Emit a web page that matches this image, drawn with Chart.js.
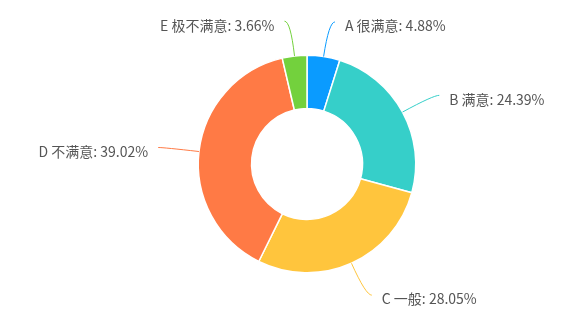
<!DOCTYPE html>
<html>
<head>
<meta charset="utf-8">
<script src="https://cdn.jsdelivr.net/npm/chart.js@4"></script>
<style>
  html, body { margin: 0; padding: 0; background: #fff; }
  #wrap { width: 582px; height: 319px; }
</style>
</head>
<body>
<div id="wrap"><canvas id="c" width="582" height="319"></canvas></div>
<script>
const categories = ['A 很满意', 'B 满意', 'C 一般', 'D 不满意', 'E 极不满意'];
const counts = [4, 20, 23, 32, 3];
const colors = ['#0a9bff', '#36cfc9', '#ffc53d', '#ff7a45', '#73d13d'];

// outside labels with leader lines, placed from each arc's own geometry
const outLabels = {
  id: 'outLabels',
  afterDatasetsDraw(chart) {
    const ctx = chart.ctx;
    const meta = chart.getDatasetMeta(0);
    const total = counts.reduce((a, b) => a + b, 0);
    ctx.save();
    ctx.font = '14px "Noto Sans CJK SC", "Noto Sans", sans-serif';
    ctx.textBaseline = 'middle';
    meta.data.forEach((arc, i) => {
      const p = arc.getProps(['x', 'y', 'startAngle', 'endAngle', 'outerRadius'], true);
      const mid = (p.startAngle + p.endAngle) / 2;
      const cx = Math.cos(mid), cy = Math.sin(mid);
      const x0 = p.x + cx * p.outerRadius, y0 = p.y + cy * p.outerRadius;
      const x1 = p.x + cx * (p.outerRadius + 35), y1 = p.y + cy * (p.outerRadius + 35);
      const side = cx >= 0 ? 1 : -1;
      const x2 = x1 + side * 6, y2 = y1;
      ctx.strokeStyle = colors[i];
      ctx.lineWidth = 1;
      ctx.beginPath();
      ctx.moveTo(x0, y0);
      ctx.quadraticCurveTo(x1, y1, x2, y2);
      ctx.stroke();
      const pct = (counts[i] / total * 100).toFixed(2);
      ctx.fillStyle = '#555';
      ctx.textAlign = side > 0 ? 'left' : 'right';
      ctx.fillText(categories[i] + ': ' + pct + '%', x2 + side * 10, y2 + 4);
    });
    ctx.restore();
  }
};

new Chart(document.getElementById('c'), {
  type: 'doughnut',
  data: {
    labels: categories,
    datasets: [{
      data: counts,
      backgroundColor: colors,
      borderColor: '#fff',
      borderWidth: 1.5
    }]
  },
  options: {
    responsive: false,
    animation: false,
    cutout: '51%',
    layout: { padding: { top: 54.5, bottom: 45.5, left: 132, right: 100 } },
    plugins: { legend: { display: false }, tooltip: { enabled: false } }
  },
  plugins: [outLabels]
});
</script>
</body>
</html>
